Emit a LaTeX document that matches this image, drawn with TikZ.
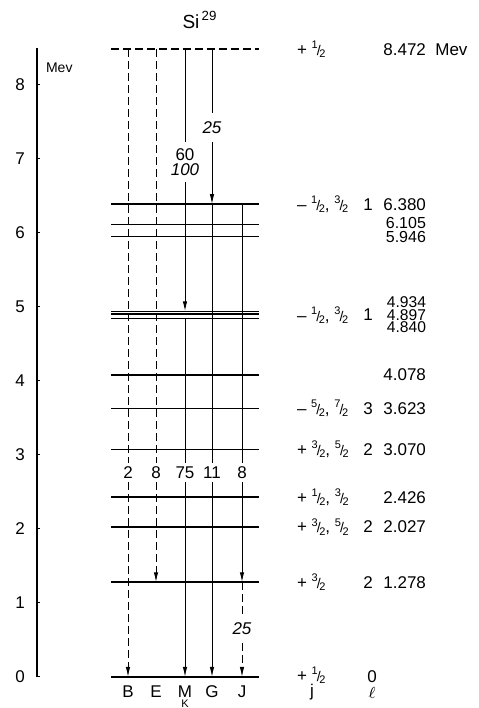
\documentclass[tikz,border=0pt]{standalone}
\usepackage{fontspec}
\setmainfont{Liberation Sans}
\usetikzlibrary{arrows.meta,positioning}

\newcommand{\fr}[2]{\raisebox{0.75ex}{\fontsize{5.5}{6}\selectfont #1}\kern-0.06em{\fontsize{7}{7}\selectfont/}\kern-0.08em\raisebox{-0.25ex}{\fontsize{5.5}{6}\selectfont #2}}

\begin{document}
\begin{tikzpicture}[
    x=0.5pt,
    y=37.05pt,
    font=\fontsize{8.5}{9}\selectfont,
    level/.style={line width=0.8pt},
    trans/.style={
        line width=0.5pt,
        -{Latex[length=5pt,width=2.2pt]}
      },
    dtrans/.style={trans,dash pattern=on 4pt off 2pt},
    gap/.style={inner xsep=1pt,inner ysep=1.5pt},
    grp/.style={inner sep=0.5pt},
    jpi/.style={anchor=west},
    lval/.style={anchor=center},
    ener/.style={anchor=east}
    ]

    \useasboundingbox (0,-0.4184) rectangle (478,9.1363);

    % energy scale
    \draw[line width=0.7pt] (37,0) -- (37,8.49);
    \foreach \e in {0,...,8} {
        \draw[line width=0.5pt] (37,\e) -- (40,\e);
        \node (tick\e) at (20,\e) {\e};
      }
    \node[anchor=north west,font=\fontsize{7}{8}\selectfont] (mev) at (39,8.38) {Mev};

    \node[font=\fontsize{9.5}{10}\selectfont] (title) at (200,8.87) {Si\textsuperscript{\,29}};

    % levels
    \draw[level,dash pattern=on 4pt off 2pt] (111,8.472) -- (259,8.472);
    \foreach \e in {0,1.278,2.027,2.426,3.070,3.623,4.078,4.840,4.897,4.934,5.946,6.105,6.380}
    \draw[level] (111,\e) -- (259,\e);

    % columns
    \foreach \c/\x in {B/128,E/156,M/185,G/212,J/242} {
        \coordinate (\c-top) at (\x,8.472);
        \coordinate (\c-6380) at (\x,6.380);
        \coordinate (\c-4934) at (\x,4.934);
        \coordinate (\c-4840) at (\x,4.840);
        \coordinate (\c-1278) at (\x,1.278);
        \coordinate (\c-0) at (\x,0);
      }

    % intensities
    \node[gap] (iB) at (128,2.76) {2};
    \node[gap] (iE) at (156,2.76) {8};
    \node[gap] (iM) at (185,2.76) {75};
    \node[gap] (iG) at (212,2.76) {11};
    \node[gap] (iJ) at (242,2.76) {8};
    \node[gap,inner ysep=3pt,align=center,font=\fontsize{8.5}{7.5}\selectfont] (iMtop) at (185,6.95) {60\\\itshape 100};
    \node[gap,inner ysep=4pt,font=\fontsize{8.5}{9}\selectfont\itshape] (iGtop) at (212,7.42) {25};
    \node[gap,inner ysep=4pt,font=\fontsize{8.5}{9}\selectfont\itshape] (iJlow) at (242,0.65) {25};

    % transitions
    \draw[dtrans] (B-top) -- (iB) -- (B-0);
    \draw[dtrans] (E-top) -- (iE) -- (E-1278);
    \draw[trans] (M-top) -- (iMtop) -- (M-4934);
    \draw[trans] (M-4840) -- (iM) -- (M-0);
    \draw[trans] (G-top) -- (iGtop) -- (G-6380);
    \draw[trans] (G-6380) -- (iG) -- (G-0);
    \draw[trans] (J-6380) -- (iJ) -- (J-1278);
    \draw[dtrans] (J-1278) -- (iJlow) -- (J-0);

    % groups
    \node[grp] (gB) at (128,-0.2) {B};
    \node[grp] (gE) at (156,-0.2) {E};
    \node[grp] (gM) at (185,-0.2) {M};
    \node[grp] (gG) at (212,-0.2) {G};
    \node[grp] (gJ) at (242,-0.2) {J};
    \node[inner sep=0pt,font=\fontsize{5.5}{6}\selectfont] (gK) at (185,-0.365) {K};

    % spins, l and energies
    \node[jpi] (jp8472) at (290,8.472) {+ \fr12};
    \node[ener] (e8472) at (433,8.472) {8.472\rlap{\ \ Mev}};

    \node[jpi] (jp6380) at (290,6.380) {– \fr12, \fr32};
    \node[lval] (l6380) at (368,6.380) {1};
    \node[ener] (e6380) at (433,6.380) {6.380};
    \node[ener,align=right,inner ysep=0pt,font=\fontsize{8}{7}\selectfont] (e6105) at (433,6.03) {6.105\\5.946};

    \node[jpi] (jp4897) at (290,4.885) {– \fr12, \fr32};
    \node[lval] (l4897) at (368,4.885) {1};
    \node[ener,align=right,inner ysep=0pt,font=\fontsize{7.8}{6.3}\selectfont] (e4897) at (433,4.885) {4.934\\4.897\\4.840};

    \node[ener] (e4078) at (433,4.078) {4.078};

    \node[jpi] (jp3623) at (290,3.623) {– \fr52, \fr72};
    \node[lval] (l3623) at (368,3.623) {3};
    \node[ener] (e3623) at (433,3.623) {3.623};

    \node[jpi] (jp3070) at (290,3.070) {+ \fr32, \fr52};
    \node[lval] (l3070) at (368,3.070) {2};
    \node[ener] (e3070) at (433,3.070) {3.070};

    \node[jpi] (jp2426) at (290,2.426) {+ \fr12, \fr32};
    \node[ener] (e2426) at (433,2.426) {2.426};

    \node[jpi] (jp2027) at (290,2.027) {+ \fr32, \fr52};
    \node[lval] (l2027) at (368,2.027) {2};
    \node[ener] (e2027) at (433,2.027) {2.027};

    \node[jpi] (jp1278) at (290,1.278) {+ \fr32};
    \node[lval] (l1278) at (368,1.278) {2};
    \node[ener] (e1278) at (433,1.278) {1.278};

    \node[jpi,inner ysep=0.5pt] (jp0) at (290,0.02) {+ \fr12};
    \node[lval] (l0) at (372,0) {0};

    \node[grp] (hj) at (312,-0.21) {j};
    \node[grp] (hl) at (372,-0.21) {$\ell$};

  \end{tikzpicture}
\end{document}
